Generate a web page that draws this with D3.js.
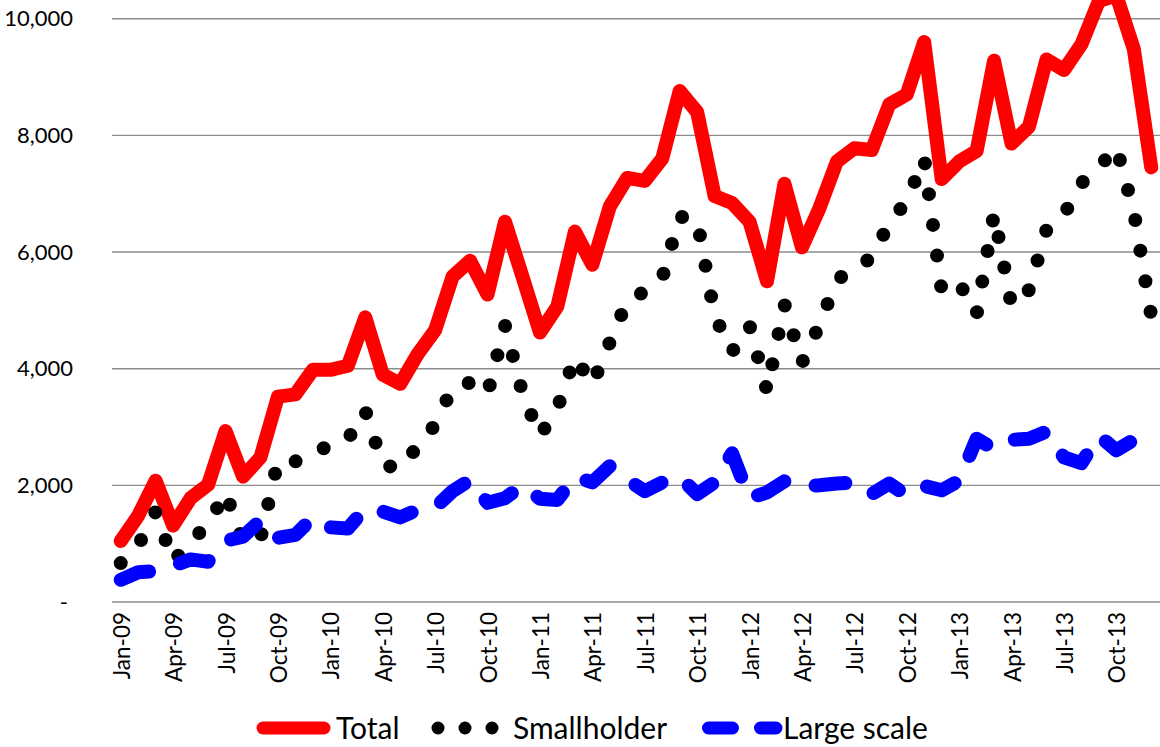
<!DOCTYPE html>
<html><head><meta charset="utf-8">
<script src="https://cdn.jsdelivr.net/npm/d3@7"></script>
<style>html,body{margin:0;padding:0;background:#fff;} svg{display:block;}</style>
</head><body>
<svg id="chart" width="1160" height="747"></svg>
<script>
const months = ["Jan-09","Feb-09","Mar-09","Apr-09","May-09","Jun-09","Jul-09","Aug-09","Sep-09","Oct-09","Nov-09","Dec-09",
"Jan-10","Feb-10","Mar-10","Apr-10","May-10","Jun-10","Jul-10","Aug-10","Sep-10","Oct-10","Nov-10","Dec-10",
"Jan-11","Feb-11","Mar-11","Apr-11","May-11","Jun-11","Jul-11","Aug-11","Sep-11","Oct-11","Nov-11","Dec-11",
"Jan-12","Feb-12","Mar-12","Apr-12","May-12","Jun-12","Jul-12","Aug-12","Sep-12","Oct-12","Nov-12","Dec-12",
"Jan-13","Feb-13","Mar-13","Apr-13","May-13","Jun-13","Jul-13","Aug-13","Sep-13","Oct-13","Nov-13","Dec-13"];
const total = [1047,1480,2080,1310,1780,2010,2930,2150,2480,3520,3560,3980,
3980,4050,4880,3900,3740,4250,4660,5580,5850,5270,6520,5580,
4620,5070,6350,5780,6780,7270,7220,7600,8760,8400,6960,6840,
6520,5500,7170,6080,6750,7550,7780,7750,8530,8700,9600,7250,
7550,7730,9280,7860,8150,9300,9120,9560,10300,10400,9480,7450];
const smallholder = [667,970,1550,690,1050,1320,1880,1030,1080,2420,2410,2530,
2700,2790,3280,2350,2290,2670,3040,3680,3760,3570,4740,3580,
2850,3320,4200,3730,4450,5170,5320,5550,6610,6550,4910,4290,
4740,3620,5100,4100,4750,5520,5730,5900,6500,6870,7610,5335,
5470,4930,6660,5080,5350,6380,6640,7180,7450,7800,6700,4900];
const largeScale = [380,510,530,620,730,690,1050,1120,1400,1100,1150,1450,
1280,1260,1600,1550,1450,1580,1620,1900,2090,1700,1780,2000,
1770,1750,2150,2050,2330,2100,1900,2050,2150,1850,2050,2550,
1780,1880,2070,1980,2000,2030,2050,1850,2030,1830,1990,1915,
2080,2800,2620,2780,2800,2920,2480,2380,2850,2600,2780,2550];
const yTickValues = [0,2000,4000,6000,8000,10000];
const yTickLabels = ["-","2,000","4,000","6,000","8,000","10,000"];
const xTickLabels = months.filter((m,i)=>i%3===0);
const seriesNames = ["Total","Smallholder","Large scale"];

const FONT = "Lato, 'Open Sans', sans-serif";
const svg = d3.select("#chart");
const x = d3.scalePoint().domain(months).range([112,1160]).padding(0.5);
const y = d3.scaleLinear().domain([0,10000]).range([602,18.7]);

// gridlines
svg.append("g").selectAll("line").data(yTickValues).join("line")
  .attr("x1",112).attr("x2",1160)
  .attr("y1",d=>y(d)).attr("y2",d=>y(d))
  .attr("stroke","#8c8c8c").attr("stroke-width",1.4);

// y axis labels
const yAxis = svg.append("g").attr("transform","translate(112,0)")
  .call(d3.axisLeft(y).tickValues(yTickValues).tickSize(0).tickPadding(39)
    .tickFormat((d,i)=>yTickLabels[i]));
yAxis.select(".domain").remove();
yAxis.selectAll("text").attr("font-family",FONT).attr("font-size",22).attr("fill","#000")
  .attr("dx",(d)=>d===0?-5:0);

// x axis labels
const xAxis = svg.append("g").attr("transform","translate(0,602)")
  .call(d3.axisBottom(x).tickValues(xTickLabels).tickSize(0));
xAxis.select(".domain").remove();
xAxis.selectAll("text").attr("font-family",FONT).attr("font-size",22.5).attr("fill","#000")
  .attr("text-anchor","end").attr("dy",null).attr("y",null)
  .attr("transform","translate(0,10) rotate(-90)")
  .attr("dominant-baseline","central");

const line = d3.line().x((d,i)=>x(months[i])).y(d=>y(d));

svg.append("path").datum(total).attr("d",line)
  .attr("fill","none").attr("stroke","#ff0000").attr("stroke-width",14)
  .attr("stroke-linejoin","round").attr("stroke-linecap","round");
svg.append("path").datum(smallholder).attr("d",line)
  .attr("fill","none").attr("stroke","#000").attr("stroke-width",14)
  .attr("stroke-dasharray","0 31")
  .attr("stroke-linejoin","round").attr("stroke-linecap","round");
svg.append("path").datum(largeScale).attr("d",line)
  .attr("fill","none").attr("stroke","#0000ff").attr("stroke-width",14)
  .attr("stroke-dasharray","30 32")
  .attr("stroke-linejoin","round").attr("stroke-linecap","round");

// legend
const leg = svg.append("g");
const legY = 728;
const legendItems = [
  {name:seriesNames[0], x1:263, x2:324, tx:336, color:"#ff0000", dash:null},
  {name:seriesNames[1], x1:438, x2:492.5, tx:513, color:"#000", dash:"0 27"},
  {name:seriesNames[2], x1:708.5, x2:776, tx:783, color:"#0000ff", dash:"24 28"}
];
legendItems.forEach(it=>{
  leg.append("line").attr("x1",it.x1).attr("x2",it.x2).attr("y1",legY).attr("y2",legY)
    .attr("stroke",it.color).attr("stroke-width",13).attr("stroke-linecap","round")
    .attr("stroke-dasharray",it.dash);
  leg.append("text").attr("x",it.tx).attr("y",legY).attr("dy","0.36em")
    .attr("font-family",FONT).attr("font-size",30).attr("fill","#000").text(it.name);
});
</script>
</body></html>
